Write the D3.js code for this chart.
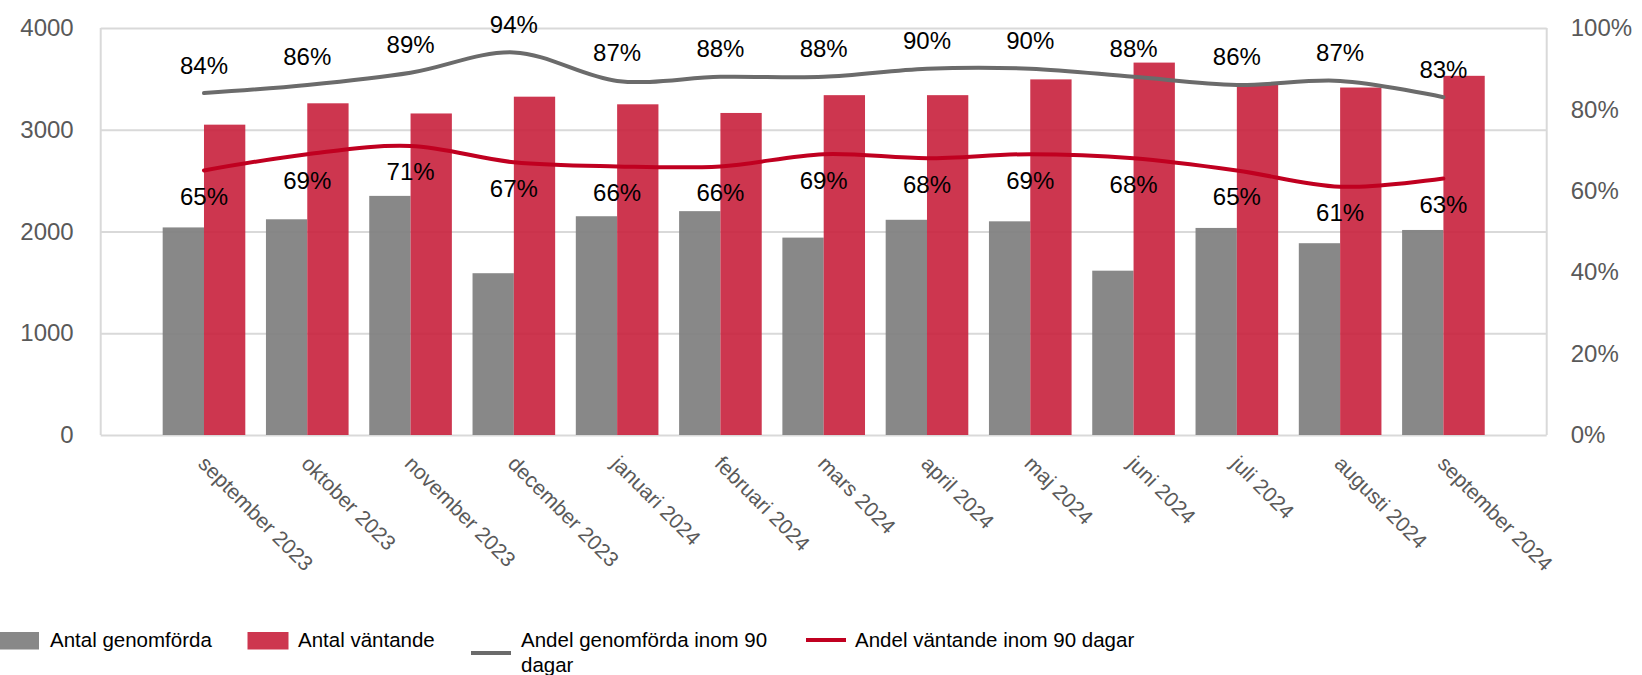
<!DOCTYPE html>
<html>
<head>
<meta charset="utf-8">
<script src="https://cdn.jsdelivr.net/npm/d3@7"></script>
<style>
  body { margin: 0; background: #fff; }
  svg { display: block; font-family: "Liberation Sans", Arial, sans-serif; }
</style>
</head>
<body>
<div id="viz"></div>
<script>
// data
let months = ['september 2023', 'oktober 2023', 'november 2023', 'december 2023',
  'januari 2024', 'februari 2024', 'mars 2024', 'april 2024', 'maj 2024',
  'juni 2024', 'juli 2024', 'augusti 2024', 'september 2024'];
let genomforda = [2040, 2120, 2350, 1590, 2150, 2200, 1940, 2115, 2100, 1615, 2035, 1885, 2015];
let vantande = [3050, 3260, 3160, 3325, 3250, 3165, 3340, 3340, 3495, 3660, 3440, 3415, 3530];
let andelGenomforda = [84, 86, 89, 94, 87, 88, 88, 90, 90, 88, 86, 87, 83];
let andelVantande = [65, 69, 71, 67, 66, 66, 69, 68, 69, 68, 65, 61, 63];
let leftTicks = [0, 1000, 2000, 3000, 4000];
let rightTicks = [0, 20, 40, 60, 80, 100];

let width = 1642,
    height = 675,
    plot = { left: 100.7, right: 1546.7, top: 28, bottom: 435 },
    gridColor = '#d9d9d9',
    axisColor = '#595959';

let svg = d3.select('#viz').append('svg')
  .attr('width', width)
  .attr('height', height);

let xScale = d3.scalePoint()
  .domain(months)
  .range([plot.left, plot.right])
  .padding(1);

let bw = xScale.step() * 0.4;

let yScale = d3.scaleLinear()
  .domain([0, 4000])
  .range([plot.bottom, plot.top]);

let pScale = d3.scaleLinear()
  .domain([0, 100])
  .range([plot.bottom, plot.top]);

// gridlines
svg.append('g')
  .attr('transform', 'translate(' + plot.left + ',0)')
  .call(d3.axisLeft(yScale).tickValues(leftTicks).tickSize(-(plot.right - plot.left)).tickFormat(''))
  .call(function(g) { g.select('.domain').remove(); })
  .selectAll('line')
  .attr('stroke', gridColor)
  .attr('stroke-width', 2);

svg.selectAll('.border').data([plot.left, plot.right])
  .enter().append('line')
  .attr('x1', function(d) { return d; })
  .attr('x2', function(d) { return d; })
  .attr('y1', plot.top)
  .attr('y2', plot.bottom)
  .attr('stroke', gridColor)
  .attr('stroke-width', 2);

// left axis
let yGuide = svg.append('g')
  .attr('transform', 'translate(' + plot.left + ',0)')
  .call(d3.axisLeft(yScale).tickValues(leftTicks).tickSize(0).tickPadding(27)
    .tickFormat(d3.format('d')))
yGuide.select('.domain').remove();
yGuide.selectAll('text')
  .attr('font-size', 24)
  .attr('font-family', 'Liberation Sans, Arial, sans-serif')
  .attr('fill', axisColor);

// right axis
let pGuide = svg.append('g')
  .attr('transform', 'translate(' + plot.right + ',0)')
  .call(d3.axisRight(pScale).tickValues(rightTicks).tickSize(0).tickPadding(24)
    .tickFormat(function(d) { return d + '%'; }))
pGuide.select('.domain').remove();
pGuide.selectAll('text')
  .attr('font-size', 24)
  .attr('font-family', 'Liberation Sans, Arial, sans-serif')
  .attr('fill', axisColor);

// x labels
svg.append('g').selectAll('text').data(months)
  .enter().append('text')
  .attr('transform', function(d) {
    return 'translate(' + (xScale(d) - 7) + ',' + (plot.bottom + 30) + ') rotate(45)';
  })
  .attr('font-size', 21)
  .attr('fill', axisColor)
  .text(function(d) { return d; });

// bars
svg.append('g').selectAll('rect').data(genomforda)
  .enter().append('rect')
  .attr('x', function(d, i) { return xScale(months[i]) - bw; })
  .attr('y', function(d) { return yScale(d); })
  .attr('width', bw)
  .attr('height', function(d) { return plot.bottom - yScale(d); })
  .attr('fill', '#7f7f7f')
  .attr('fill-opacity', 0.93);

svg.append('g').selectAll('rect').data(vantande)
  .enter().append('rect')
  .attr('x', function(d, i) { return xScale(months[i]); })
  .attr('y', function(d) { return yScale(d); })
  .attr('width', bw)
  .attr('height', function(d) { return plot.bottom - yScale(d); })
  .attr('fill', '#c8203c')
  .attr('fill-opacity', 0.9);

// lines
let line = d3.line()
  .x(function(d, i) { return xScale(months[i]); })
  .y(function(d) { return pScale(d); })
  .curve(d3.curveCardinal);

svg.append('path')
  .datum(andelGenomforda)
  .attr('d', line)
  .attr('fill', 'none')
  .attr('stroke', '#6b6b6b')
  .attr('stroke-width', 4)
  .attr('stroke-linecap', 'round');

svg.append('path')
  .datum(andelVantande)
  .attr('d', line)
  .attr('fill', 'none')
  .attr('stroke', '#c00020')
  .attr('stroke-width', 4)
  .attr('stroke-linecap', 'round');

// data labels
svg.append('g').selectAll('text').data(andelGenomforda)
  .enter().append('text')
  .attr('x', function(d, i) { return xScale(months[i]); })
  .attr('y', function(d) { return pScale(d) - 28; })
  .attr('dy', '0.35em')
  .attr('text-anchor', 'middle')
  .attr('font-size', 24)
  .attr('fill', '#000')
  .text(function(d) { return d + '%'; });

svg.append('g').selectAll('text').data(andelVantande)
  .enter().append('text')
  .attr('x', function(d, i) { return xScale(months[i]); })
  .attr('y', function(d) { return pScale(d) + 26; })
  .attr('dy', '0.35em')
  .attr('text-anchor', 'middle')
  .attr('font-size', 24)
  .attr('fill', '#000')
  .text(function(d) { return d + '%'; });

// legend
let legend = svg.append('g').attr('font-size', 20.5).attr('fill', '#000');

legend.append('rect').attr('x', 0).attr('y', 632).attr('width', 39).attr('height', 17.5)
  .attr('fill', '#7f7f7f').attr('fill-opacity', 0.93);
legend.append('text').attr('x', 50).attr('y', 640).attr('dy', '0.35em').text('Antal genomförda');

legend.append('rect').attr('x', 247.5).attr('y', 632).attr('width', 41).attr('height', 17.5)
  .attr('fill', '#c8203c').attr('fill-opacity', 0.9);
legend.append('text').attr('x', 298).attr('y', 640).attr('dy', '0.35em').text('Antal väntande');

legend.append('line').attr('x1', 471).attr('x2', 511).attr('y1', 653).attr('y2', 653)
  .attr('stroke', '#6b6b6b').attr('stroke-width', 4);
legend.append('text').attr('x', 521).attr('y', 640).attr('dy', '0.35em').text('Andel genomförda inom 90');
legend.append('text').attr('x', 521).attr('y', 665).attr('dy', '0.35em').text('dagar');

legend.append('line').attr('x1', 806).attr('x2', 846).attr('y1', 640).attr('y2', 640)
  .attr('stroke', '#c00020').attr('stroke-width', 4);
legend.append('text').attr('x', 855).attr('y', 640).attr('dy', '0.35em').text('Andel väntande inom 90 dagar');
</script>
</body>
</html>
